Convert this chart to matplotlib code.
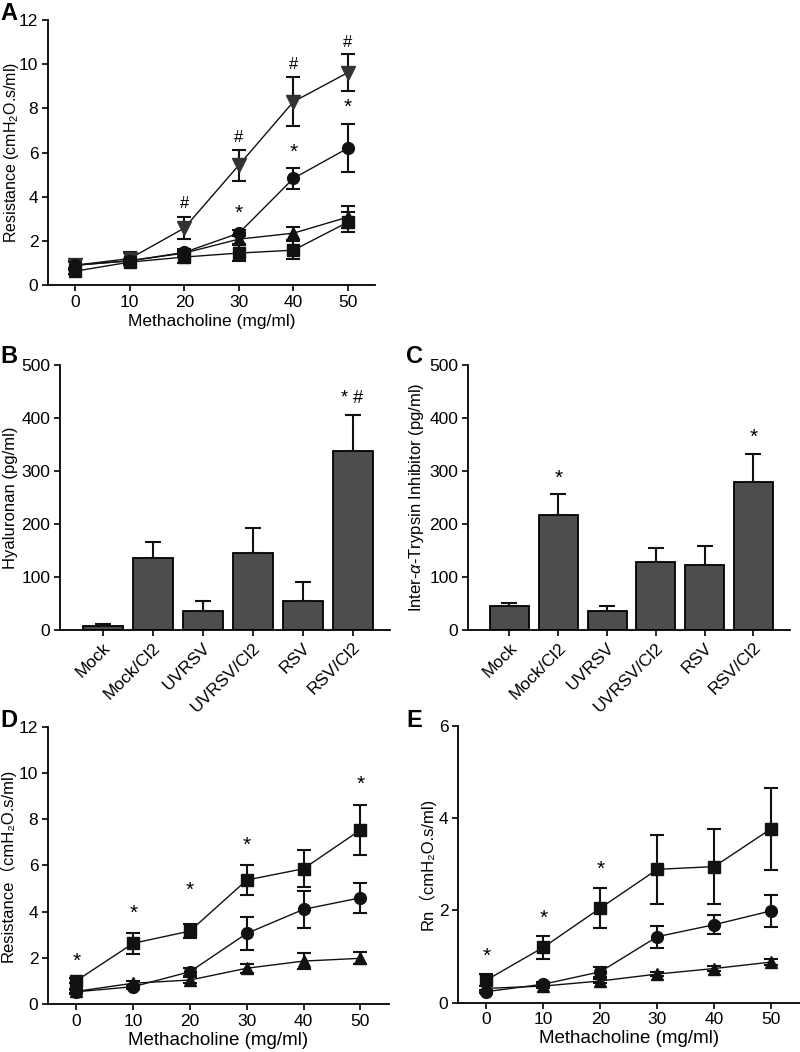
import numpy as np
import matplotlib
matplotlib.use("Agg")
import matplotlib.pyplot as plt

plt.rcParams['font.family'] = ['Liberation Sans', 'Noto Sans CJK SC', 'DejaVu Sans']
plt.rcParams['mathtext.fontset'] = 'custom'
plt.rcParams['mathtext.rm'] = 'Liberation Sans'
plt.rcParams['mathtext.it'] = 'Liberation Sans:italic'
plt.rcParams['font.size'] = 12

# doses
doses = [0, 10, 20, 30, 40, 50]

# Panel A
a_inv = [0.9, 1.2, 2.58, 5.43, 8.3, 9.62]
a_inv_err = [0.2, 0.3, 0.5, 0.7, 1.1, 0.85]
a_circ = [0.9, 1.1, 1.48, 2.35, 4.83, 6.2]
a_circ_err = [0.15, 0.1, 0.15, 0.15, 0.47, 1.1]
a_tri = [0.9, 1.1, 1.45, 2.08, 2.35, 3.08]
a_tri_err = [0.15, 0.1, 0.15, 0.2, 0.3, 0.5]
a_sq = [0.63, 1.04, 1.27, 1.45, 1.58, 2.85]
a_sq_err = [0.15, 0.1, 0.25, 0.35, 0.4, 0.45]
a_hash_x = [20, 30, 40, 50]
a_hash_y = [3.7, 6.7, 10.0, 11.0]
a_star_x = [30, 40, 50]
a_star_y = [3.25, 6.0, 8.05]

# Panels B and C
groups = ['Mock', 'Mock/Cl2', 'UVRSV', 'UVRSV/Cl2', 'RSV', 'RSV/Cl2']
hyaluronan = [8, 136, 37, 145, 55, 338]
hyaluronan_err = [3, 30, 18, 48, 35, 67]
iti = [45, 218, 37, 128, 123, 280]
iti_err = [7, 38, 9, 27, 36, 52]

# Panel D
d_sq = [1.01, 2.63, 3.16, 5.37, 5.86, 7.54]
d_sq_err = [0.12, 0.46, 0.3, 0.63, 0.8, 1.08]
d_circ = [0.53, 0.75, 1.4, 3.06, 4.1, 4.6]
d_circ_err = [0.08, 0.08, 0.17, 0.7, 0.8, 0.65]
d_tri = [0.55, 0.9, 1.04, 1.55, 1.86, 1.98]
d_tri_err = [0.08, 0.1, 0.15, 0.2, 0.36, 0.26]
d_star_x = [0, 10, 20, 30, 50]
d_star_y = [1.83, 3.93, 4.91, 6.89, 9.53]

# Panel E
e_sq = [0.49, 1.2, 2.05, 2.89, 2.95, 3.77]
e_sq_err = [0.13, 0.25, 0.43, 0.75, 0.81, 0.89]
e_circ = [0.24, 0.4, 0.67, 1.43, 1.69, 1.99]
e_circ_err = [0.04, 0.05, 0.11, 0.24, 0.21, 0.35]
e_tri = [0.31, 0.36, 0.47, 0.62, 0.74, 0.88]
e_tri_err = [0.05, 0.05, 0.05, 0.05, 0.06, 0.06]
e_star_x = [0, 10, 20]
e_star_y = [1.01, 1.83, 2.88]


def style_axes(ax):
    ax.spines['top'].set_visible(False)
    ax.spines['right'].set_visible(False)
    ax.spines['left'].set_linewidth(1.3)
    ax.spines['bottom'].set_linewidth(1.3)
    ax.tick_params(direction='out', length=4, width=1.2, pad=3, labelsize=12.5)


def series(ax, y, err, marker, color='#111111', ms=8.5):
    ax.errorbar(doses, y, yerr=err, fmt='-', marker=marker, color='#111111',
                mfc=color, mec=color, ms=ms, lw=1.0, elinewidth=1.5,
                capsize=5, capthick=1.5)


def bars(ax, vals, errs):
    x = np.arange(len(groups))
    ax.bar(x, vals, width=0.8, color='#4d4d4d', edgecolor='black', linewidth=1.3,
           yerr=[np.zeros(len(errs)), errs],
           error_kw=dict(elinewidth=1.5, capsize=6, capthick=1.5, ecolor='#111111'))
    ax.set_xticks(x)
    ax.set_xticklabels(groups, rotation=45, ha='right', rotation_mode='anchor')
    ax.set_ylim(0, 500)
    ax.set_yticks([0, 100, 200, 300, 400, 500])
    ax.set_xlim(-0.85, 5.75)
    style_axes(ax)


fig = plt.figure(figsize=(8, 10.52), dpi=100)

# A
axA = fig.add_axes([0.06, 0.729, 0.409, 0.252])
series(axA, a_inv, a_inv_err, 'v', color='#333333', ms=9.5)
series(axA, a_circ, a_circ_err, 'o')
series(axA, a_tri, a_tri_err, '^')
series(axA, a_sq, a_sq_err, 's')
for x, y in zip(a_hash_x, a_hash_y):
    axA.text(x, y, '#', ha='center', va='center', fontsize=12)
for x, y in zip(a_star_x, a_star_y):
    axA.text(x, y, '*', ha='center', va='center', fontsize=15)
axA.set_xlim(-5, 55)
axA.set_ylim(0, 12)
axA.set_xticks(doses)
axA.set_yticks([0, 2, 4, 6, 8, 10, 12])
axA.set_xlabel('Methacholine (mg/ml)', fontsize=12.5, labelpad=3)
axA.set_ylabel('Resistance (cmH$_2$O.s/ml)', fontsize=11.5)
axA.yaxis.set_label_coords(-0.082, 0.5)
style_axes(axA)

# B
axB = fig.add_axes([0.075, 0.401, 0.4125, 0.252])
bars(axB, hyaluronan, hyaluronan_err)
axB.text(5, 436, '* #', ha='center', va='center', fontsize=13)
axB.set_ylabel('Hyaluronan (pg/ml)', fontsize=12, labelpad=2)

# C
axC = fig.add_axes([0.585, 0.401, 0.4025, 0.252])
bars(axC, iti, iti_err)
axC.text(1, 286, '*', ha='center', va='center', fontsize=15)
axC.text(5, 364, '*', ha='center', va='center', fontsize=15)
axC.set_ylabel(r'Inter-$\alpha$-Trypsin Inhibitor (pg/ml)', fontsize=12, labelpad=2)

# D
axD = fig.add_axes([0.06, 0.0456, 0.426, 0.2634])
series(axD, d_sq, d_sq_err, 's')
series(axD, d_circ, d_circ_err, 'o')
series(axD, d_tri, d_tri_err, '^')
for x, y in zip(d_star_x, d_star_y):
    axD.text(x, y, '*', ha='center', va='center', fontsize=15)
axD.set_xlim(-5, 55)
axD.set_ylim(0, 12)
axD.set_xticks(doses)
axD.set_yticks([0, 2, 4, 6, 8, 10, 12])
axD.set_xlabel('Methacholine (mg/ml)', fontsize=13.5, labelpad=2)
axD.set_ylabel('Resistance\uff08cmH\u2082O.s/ml)', fontsize=12, labelpad=2)
style_axes(axD)

# E
axE = fig.add_axes([0.5725, 0.0469, 0.427, 0.2631])
series(axE, e_sq, e_sq_err, 's')
series(axE, e_circ, e_circ_err, 'o')
series(axE, e_tri, e_tri_err, '^')
for x, y in zip(e_star_x, e_star_y):
    axE.text(x, y, '*', ha='center', va='center', fontsize=15)
axE.set_xlim(-5, 55)
axE.set_ylim(0, 6)
axE.set_xticks(doses)
axE.set_yticks([0, 2, 4, 6])
axE.set_xlabel('Methacholine (mg/ml)', fontsize=13.5, labelpad=2)
axE.set_ylabel('Rn\uff08cmH\u2082O.s/ml)', fontsize=12, labelpad=2)
style_axes(axE)

# panel letters
for lbl, (px, py) in zip('ABCDE', [(0.0, 0.981), (0.0, 0.655), (0.508, 0.655),
                                   (0.0, 0.309), (0.508, 0.309)]):
    fig.text(px, py, lbl, fontsize=17, fontweight='bold', ha='left', va='baseline')

fig.savefig('out.png', dpi=100)
